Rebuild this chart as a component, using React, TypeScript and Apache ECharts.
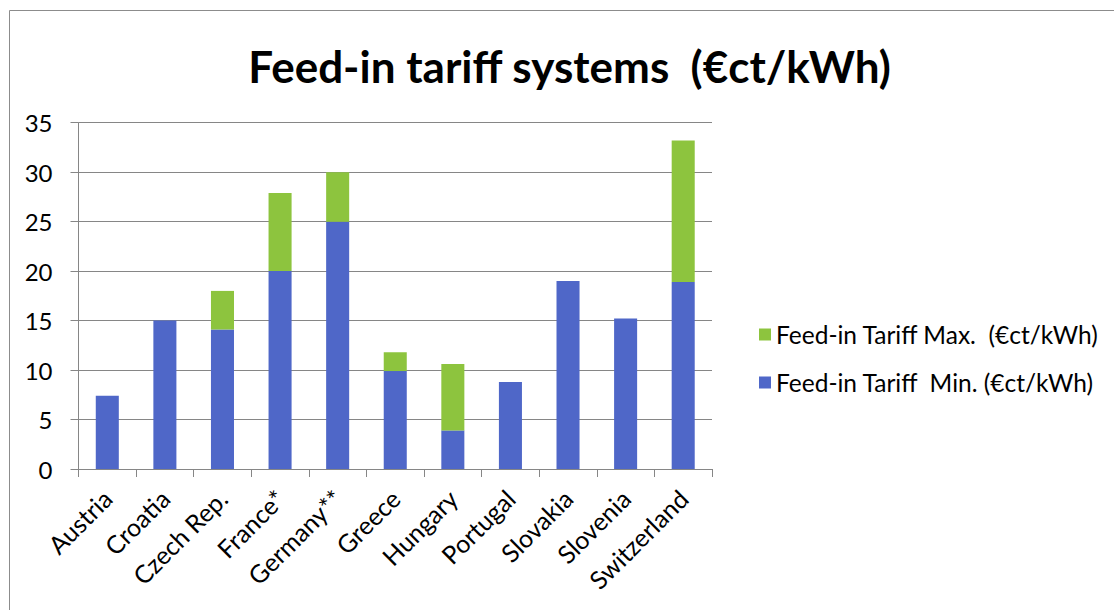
import React, { useEffect, useRef } from "react";
import * as echarts from "echarts";

const categories = [
  "Austria",
  "Croatia",
  "Czech Rep.",
  "France*",
  "Germany**",
  "Greece",
  "Hungary",
  "Portugal",
  "Slovakia",
  "Slovenia",
  "Switzerland",
];

// Blue segment: minimum feed-in tariff
const minValues = [7.4, 15, 14.1, 20, 25, 9.9, 3.9, 8.8, 19, 15.2, 18.9];
// Green segment stacked on top (maximum minus minimum)
const maxExtra = [0, 0, 3.9, 7.9, 5, 1.9, 6.7, 0, 0, 0, 14.3];

const yTicks = { min: 0, max: 35, interval: 5 };

const MIN_NAME = "Feed-in Tariff  Min. (€ct/kWh)";
const MAX_NAME = "Feed-in Tariff Max.  (€ct/kWh)";

const FONT = "Lato";

export default function App() {
  const ref = useRef<HTMLDivElement>(null);

  useEffect(() => {
    if (!ref.current) return;
    const chart = echarts.init(ref.current, undefined, { renderer: "svg" });
    chart.setOption({
      animation: false,
      backgroundColor: "#ffffff",
      textStyle: { fontFamily: FONT },
      graphic: [
        {
          type: "rect",
          shape: { x: 9.5, y: 10.5, width: 1200, height: 700 },
          style: { fill: "none", stroke: "#8c8c8c", lineWidth: 1 },
          silent: true,
        },
        {
          type: "text",
          x: 569.5,
          y: 66,
          style: {
            text: "Feed-in tariff systems  (€ct/kWh)",
            fontFamily: FONT,
            fontWeight: "bold",
            fontSize: 44,
            fill: "#000000",
            align: "center",
            verticalAlign: "middle",
          },
        },
      ],
      legend: {
        orient: "vertical",
        left: 754,
        top: 317,
        itemWidth: 12,
        itemHeight: 12,
        itemGap: 23,
        icon: "rect",
        data: [MAX_NAME, MIN_NAME],
        textStyle: { fontFamily: FONT, fontSize: 24.5, color: "#000000" },
      },
      grid: { left: 78.5, right: 402, top: 122.7, bottom: 141 },
      xAxis: {
        type: "category",
        data: categories,
        axisLine: { lineStyle: { color: "#868686", width: 1 } },
        axisTick: { show: true, length: 8, lineStyle: { color: "#868686" } },
        axisLabel: {
          rotate: 45,
          interval: 0,
          margin: 25,
          fontFamily: FONT,
          fontSize: 25,
          color: "#000000",
        },
      },
      yAxis: {
        type: "value",
        min: yTicks.min,
        max: yTicks.max,
        interval: yTicks.interval,
        axisLine: { show: true, lineStyle: { color: "#868686", width: 1 } },
        axisTick: { show: true, length: 8, lineStyle: { color: "#868686" } },
        splitLine: { show: true, lineStyle: { color: "#868686", width: 1 } },
        axisLabel: {
          margin: 26,
          fontFamily: FONT,
          fontSize: 24,
          color: "#000000",
        },
      },
      series: [
        {
          name: MIN_NAME,
          type: "bar",
          stack: "tariff",
          barWidth: "40%",
          data: minValues,
          itemStyle: { color: "#4F67C8" },
        },
        {
          name: MAX_NAME,
          type: "bar",
          stack: "tariff",
          barWidth: "40%",
          data: maxExtra,
          itemStyle: { color: "#8DC43E" },
        },
      ],
    });
    return () => chart.dispose();
  }, []);

  return (
    <div
      ref={ref}
      style={{ position: "absolute", left: 0, top: 0, width: 1114, height: 610 }}
    />
  );
}
